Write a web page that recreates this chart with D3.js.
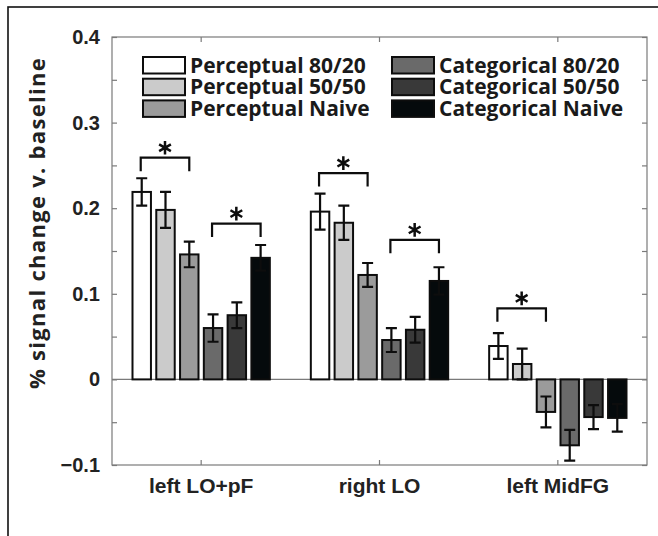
<!DOCTYPE html>
<html>
<head>
<meta charset="utf-8">
<script src="https://cdn.jsdelivr.net/npm/d3@7"></script>
<style>
  html, body { margin: 0; padding: 0; background: #fff; }
  svg { display: block; font-family: "Open Sans", sans-serif; }
</style>
</head>
<body>
<div class="js-vis"></div>
<script>
// data
const regions = ["left LO+pF", "right LO", "left MidFG"]
const series = ["Perceptual 80/20", "Perceptual 50/50", "Perceptual Naive",
  "Categorical 80/20", "Categorical 50/50", "Categorical Naive"]

const perc8020 = [0.219, 0.196, 0.039],
    perc5050 = [0.198, 0.183, 0.018],
    percNaive = [0.146, 0.122, -0.038],
    cat8020 = [0.060, 0.046, -0.077],
    cat5050 = [0.075, 0.058, -0.044],
    catNaive = [0.142, 0.115, -0.045]

const perc8020Err = [0.016, 0.021, 0.015],
    perc5050Err = [0.021, 0.020, 0.018],
    percNaiveErr = [0.015, 0.014, 0.018],
    cat8020Err = [0.016, 0.014, 0.018],
    cat5050Err = [0.015, 0.015, 0.014],
    catNaiveErr = [0.015, 0.016, 0.016]

// significance brackets: region index, first and last series index, level
const sigRegion = [0, 0, 1, 1, 2],
    sigFrom = [0, 3, 0, 3, 0],
    sigTo = [2, 5, 2, 5, 2],
    sigLevel = [0.259, 0.182, 0.241, 0.163, 0.083]

const yTicks = [-0.1, -0.05, 0, 0.05, 0.1, 0.15, 0.2, 0.25, 0.3, 0.35, 0.4]
const yTickLabels = ["\u22120.1", "", "0", "", "0.1", "", "0.2", "", "0.3", "", "0.4"]

const colors = ["#ffffff", "#cbcbcb", "#9b9b9b", "#6a6a6a", "#393939", "#050a0c"]

const values = [perc8020, perc5050, percNaive, cat8020, cat5050, catNaive],
    errors = [perc8020Err, perc5050Err, percNaiveErr, cat8020Err, cat5050Err, catNaiveErr]

const rows = []
regions.forEach((r, i) => {
  series.forEach((s, j) => {
    rows.push({ region: r, series: s, value: values[j][i], err: errors[j][i], idx: j })
  })
})

const ewidth = 658, eheight = 536
const margin = { top: 37, right: 11, bottom: 71, left: 112 },
    width = ewidth - margin.left - margin.right,
    height = eheight - margin.top - margin.bottom

const x0 = d3.scaleBand()
  .domain(regions)
  .range([0, width])

const x1 = d3.scaleBand()
  .domain(series)
  .range([x0.bandwidth() * 0.1, x0.bandwidth() * 0.9])
  .paddingInner(0.14)
  .paddingOuter(0.07)

const y = d3.scaleLinear()
  .domain([-0.1, 0.4])
  .range([height, 0])

const svg = d3.select(".js-vis").append("svg")
  .attr("width", ewidth)
  .attr("height", eheight)

// outer frame of the figure panel
svg.append("rect")
  .attr("x", 8).attr("y", 7)
  .attr("width", 800).attr("height", 800)
  .attr("fill", "none")
  .attr("stroke", "#111")
  .attr("stroke-width", 1.6)

const vis = svg.append("g")
  .attr("transform", "translate(" + margin.left + "," + margin.top + ")")

const axisColor = "#7a7a7a"

// box
vis.append("rect")
  .attr("width", width).attr("height", height)
  .attr("fill", "none")
  .attr("stroke", axisColor)
  .attr("stroke-width", 1.2)

// zero line
vis.append("line")
  .attr("x1", 0).attr("x2", width)
  .attr("y1", y(0)).attr("y2", y(0))
  .attr("stroke", axisColor)
  .attr("stroke-width", 1.2)

const yax = d3.axisLeft(y)
  .tickValues(yTicks)
  .tickFormat((d, i) => yTickLabels[i])
  .tickSize(-5)
  .tickPadding(12)

const yaxR = d3.axisRight(y)
  .tickValues(yTicks)
  .tickFormat("")
  .tickSize(-5)

const xaxTop = d3.axisTop(x0).tickFormat("").tickSize(-5)
const xax = d3.axisBottom(x0).tickSize(-5).tickPadding(13)

function styleAxis(g, size) {
  g.select(".domain").remove()
  g.selectAll(".tick line").attr("stroke", axisColor).attr("stroke-width", 1.2)
  g.selectAll(".tick text")
    .attr("fill", "#222")
    .style("font-size", size + "px")
    .style("font-weight", 700)
}

vis.append("g").call(yax).call(g => styleAxis(g, 20))
vis.append("g").attr("transform", "translate(" + width + ",0)").call(yaxR).call(g => styleAxis(g, 20))
vis.append("g").call(xaxTop).call(g => styleAxis(g, 21))
vis.append("g").attr("transform", "translate(0," + height + ")").call(xax).call(g => styleAxis(g, 21))

// y label
vis.append("text")
  .attr("transform", "translate(" + (37 - margin.left) + "," + (223 - margin.top) + ") rotate(-90)")
  .attr("text-anchor", "middle")
  .attr("dy", "0.35em")
  .attr("fill", "#222")
  .style("font-size", "22px")
  .style("font-weight", 700)
  .style("letter-spacing", "1.3px")
  .text("% signal change v. baseline")

// bars
const bars = vis.append("g").attr("class", "bars")
const bw = x1.bandwidth()

bars.selectAll("rect")
  .data(rows)
.enter().append("rect")
  .attr("x", d => x0(d.region) + x1(d.series) + 1)
  .attr("width", bw - 2)
  .attr("y", d => Math.min(y(d.value), y(0)))
  .attr("height", d => Math.abs(y(d.value) - y(0)))
  .attr("fill", d => colors[d.idx])
  .attr("stroke", "#0d0d0d")
  .attr("stroke-width", 2)

// error bars
const eb = vis.append("g").attr("class", "errbars")
  .attr("stroke", "#0d0d0d")
  .attr("stroke-width", 2.2)
  .attr("fill", "none")

const cx = d => x0(d.region) + x1(d.series) + bw / 2
const capW = 5.5

eb.selectAll("path")
  .data(rows)
.enter().append("path")
  .attr("d", d => {
    const t = y(d.value + d.err), b = y(d.value - d.err), c = cx(d)
    return "M" + c + "," + t + "V" + b +
      "M" + (c - capW) + "," + t + "H" + (c + capW) +
      "M" + (c - capW) + "," + b + "H" + (c + capW)
  })

// significance brackets
const sig = sigRegion.map((r, i) => ({
  x1: x0(regions[r]) + x1(series[sigFrom[i]]) + bw / 2 - 1,
  x2: x0(regions[r]) + x1(series[sigTo[i]]) + bw / 2,
  y: y(sigLevel[i])
}))

const br = vis.append("g").attr("class", "brackets")

br.selectAll("path")
  .data(sig)
.enter().append("path")
  .attr("d", d => "M" + d.x1 + "," + (d.y + 13.5) + "V" + d.y + "H" + d.x2 + "V" + (d.y + 13.5))
  .attr("fill", "none")
  .attr("stroke", "#0d0d0d")
  .attr("stroke-width", 2.2)

br.selectAll(".star")
  .data(sig)
.enter().append("path")
  .attr("class", "star")
  .attr("transform", d => "translate(" + ((d.x1 + d.x2) / 2) + "," + (d.y - 10) + ")")
  .attr("d", d3.symbol(d3.symbolAsterisk, 130))
  .attr("fill", "none")
  .attr("stroke", "#0d0d0d")
  .attr("stroke-width", 2.5)

// legend
const legend = svg.append("g").attr("class", "legend")
const legCols = [143, 392], legTop = 57, legPitch = 21.7

const items = legend.selectAll("g")
  .data(series)
.enter().append("g")
  .attr("transform", (d, i) => "translate(" + legCols[Math.floor(i / 3)] + "," + (legTop + (i % 3) * legPitch) + ")")

items.append("rect")
  .attr("width", 42).attr("height", 16.5)
  .attr("fill", (d, i) => colors[i])
  .attr("stroke", "#0d0d0d")
  .attr("stroke-width", 2)

items.append("text")
  .attr("x", 47)
  .attr("y", 15.5)
  .attr("fill", "#1a1a1a")
  .style("font-size", "21px")
  .style("font-weight", 700)
  .text(d => d)
</script>
</body>
</html>
